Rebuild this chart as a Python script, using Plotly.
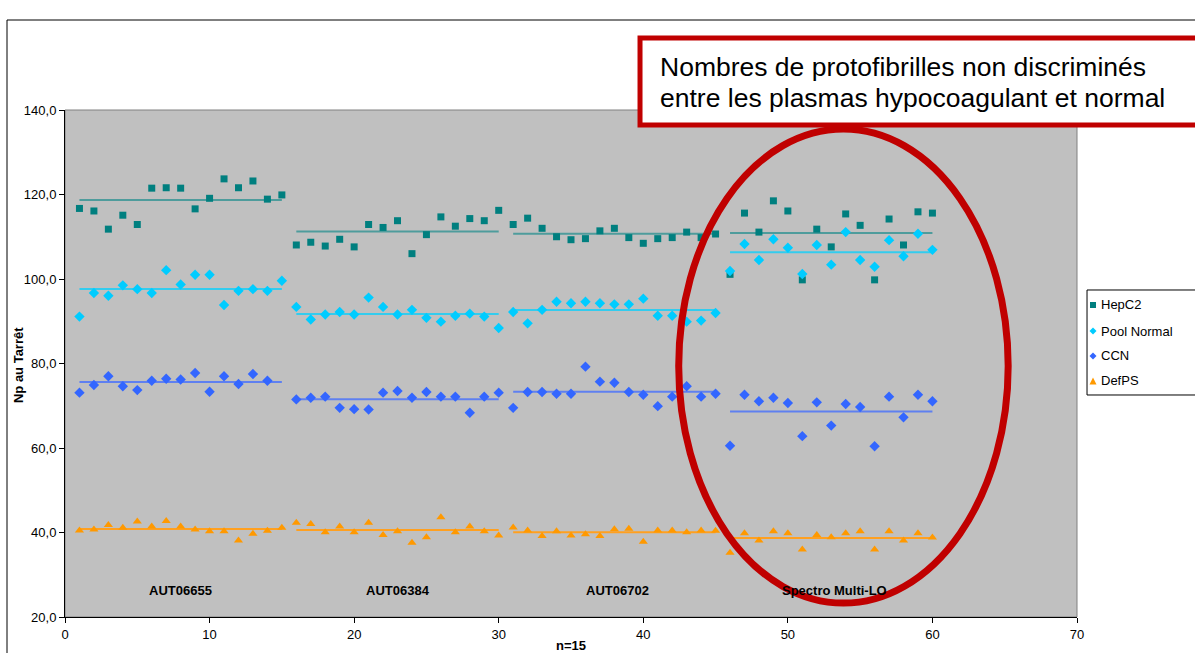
import plotly.graph_objects as go

# Run index (4 groups of 15 measurements)
runs = list(range(1, 61))
group_names = ["AUT06655", "AUT06384", "AUT06702", "Spectro Multi-LO"]
group_size = 15

hepc2 = [116.7, 116.1, 111.8, 115.1, 112.9, 121.5, 121.6, 121.5, 116.6, 119.1, 123.7, 121.6, 123.2, 118.9, 119.9,
         108.05, 108.7, 107.8, 109.4, 107.6, 112.9, 112.2, 113.8, 106.0, 110.5, 114.7, 112.5, 114.3, 113.8, 116.25,
         112.9, 114.4, 112.0, 110.0, 109.3, 109.55, 111.4, 112.0, 109.8, 108.45, 109.55, 109.8, 111.1, 109.8, 110.65,
         101.1, 115.6, 111.1, 118.5, 116.1, 99.8, 111.8, 107.6, 115.4, 112.7, 99.8, 114.2, 108.05, 115.9, 115.6]

pool_normal = [91.1, 96.7, 96.05, 98.5, 97.6, 96.7, 102.1, 98.7, 101.0, 101.0, 93.85, 97.2, 97.6, 97.2, 99.6,
               93.4, 90.4, 91.6, 92.2, 91.6, 95.6, 93.4, 91.6, 92.7, 90.8, 89.9, 91.3, 91.8, 91.1, 88.4,
               92.2, 89.5, 92.7, 94.6, 94.25, 94.6, 94.25, 94.0, 94.0, 95.35, 91.3, 91.3, 89.9, 90.15, 91.95,
               101.9, 108.3, 104.5, 109.4, 107.4, 101.2, 108.05, 103.4, 111.1, 104.5, 102.9, 109.2, 105.4, 110.7, 106.9]

ccn = [73.1, 74.9, 77.0, 74.6, 73.7, 75.9, 76.4, 76.2, 77.75, 73.3, 77.0, 75.15, 77.5, 75.9, None,
       71.5, 71.9, 72.15, 69.5, 69.2, 69.1, 73.1, 73.5, 71.9, 73.25, 72.15, 72.15, 68.35, 72.15, 73.1,
       69.5, 73.25, 73.25, 72.85, 72.85, 79.25, 75.7, 75.45, 73.25, 72.6, 69.9, 72.15, 74.6, 72.15, 72.85,
       60.55, 72.6, 71.05, 71.9, 70.65, 62.8, 70.8, 65.3, 70.4, 69.7, 60.4, 72.15, 67.25, 72.6, 71.05]

defps = [40.5, 40.7, 41.8, 41.1, 42.6, 41.4, 42.7, 41.4, 40.7, 40.3, 40.3, 38.1, 39.7, 40.4, 41.1,
         42.3, 42.0, 40.05, 41.4, 40.05, 42.3, 39.4, 40.3, 37.6, 38.9, 43.6, 40.05, 41.4, 40.3, 39.3,
         41.2, 40.5, 39.2, 40.3, 39.3, 39.6, 39.2, 40.75, 40.9, 37.8, 40.5, 40.5, 40.05, 40.5, 40.4,
         35.2, 39.8, 38.1, 40.3, 39.8, 36.0, 39.4, 38.9, 39.8, 40.3, 36.0, 40.3, 38.1, 39.8, 38.8]

y_ticks = [20, 40, 60, 80, 100, 120, 140]
y_tick_labels = ["20,0", "40,0", "60,0", "80,0", "100,0", "120,0", "140,0"]
x_ticks = [0, 10, 20, 30, 40, 50, 60, 70]

series = [
    ("HepC2", hepc2, "square", "#007F7F", "#4E9C9C", 7),
    ("Pool Normal", pool_normal, "diamond", "#00CCFF", "#33CCEE", 8),
    ("CCN", ccn, "diamond", "#3366FF", "#5F80F0", 8),
    ("DefPS", defps, "triangle-up", "#FF9900", "#FFA020", 8),
]

# plot-area size in pixels, used to place the key in paper units
PLOT_W, PLOT_H = 1012, 507


def group_means(values):
    """Mean of each block of runs, drawn as a horizontal segment."""
    xs, ys = [], []
    for g in range(len(group_names)):
        block_x = runs[g * group_size:(g + 1) * group_size]
        block = [v for v in values[g * group_size:(g + 1) * group_size] if v is not None]
        m = sum(block) / len(block)
        xs += [block_x[0], block_x[-1], None]
        ys += [m, m, None]
    return xs, ys


fig = go.Figure()

# mean segments first so markers sit on top
for name, vals, sym, col, lcol, size in series:
    mx, my = group_means(vals)
    fig.add_trace(go.Scatter(x=mx, y=my, mode="lines", line=dict(color=lcol, width=2),
                             showlegend=False, hoverinfo="skip"))

for name, vals, sym, col, lcol, size in series:
    fig.add_trace(go.Scatter(x=runs, y=vals, mode="markers", name=name, showlegend=False,
                             marker=dict(symbol=sym, color=col, size=size, line=dict(width=0))))

# block labels
label_x = [8, 23, 38.2, 53.2]
for gx, gname in zip(label_x, group_names):
    fig.add_annotation(x=gx, y=26.3, xref="x", yref="y", text="<b>%s</b>" % gname,
                       showarrow=False, font=dict(size=13, color="black"))

shapes = [
    # plot-area frame
    dict(type="rect", xref="paper", yref="paper", x0=0, x1=1, y0=0, y1=1,
         line=dict(color="#808080", width=1), layer="below"),
    # outer chart frame
    dict(type="line", xref="paper", yref="paper", x0=-0.0573, x1=1.13, y0=1.1775, y1=1.1775,
         line=dict(color="black", width=1)),
    dict(type="line", xref="paper", yref="paper", x0=-0.0573, x1=-0.0573, y0=-0.08, y1=1.1775,
         line=dict(color="black", width=1)),
    # highlighted block
    dict(type="circle", xref="x", yref="y", x0=42.45, x1=65.24, y0=23.3, y1=135.5,
         line=dict(color="#C00000", width=7)),
    # message box
    dict(type="rect", xref="paper", yref="paper", x0=0.5682, x1=1.125, y0=0.9704, y1=1.142,
         line=dict(color="#C00000", width=5), fillcolor="white"),
    # key box
    dict(type="rect", xref="paper", yref="paper", x0=1.0099, x1=1.13, y0=0.4379, y1=0.645,
         line=dict(color="black", width=1), fillcolor="white"),
]

# key entries: symbol drawn as a small path, label as text
key_x = 1.0158
key_text_x = 1.0217
key_y = [0.6154, 0.5641, 0.5148, 0.4655]


def key_symbol(sym, cx, cy, half_px):
    hx = half_px / PLOT_W
    hy = half_px / PLOT_H
    if sym == "square":
        pts = [(cx - hx, cy - hy), (cx + hx, cy - hy), (cx + hx, cy + hy), (cx - hx, cy + hy)]
    elif sym == "diamond":
        pts = [(cx, cy + hy), (cx + hx, cy), (cx, cy - hy), (cx - hx, cy)]
    else:
        pts = [(cx, cy + hy), (cx + hx, cy - hy), (cx - hx, cy - hy)]
    return "M " + " L ".join("%.5f,%.5f" % p for p in pts) + " Z"


for (name, vals, sym, col, lcol, size), ky in zip(series, key_y):
    shapes.append(dict(type="path", xref="paper", yref="paper",
                       path=key_symbol(sym, key_x, ky, 3 if sym == "square" else 3.5),
                       fillcolor=col, line=dict(width=0)))
    fig.add_annotation(xref="paper", yref="paper", x=key_text_x, y=ky, xanchor="left",
                       yanchor="middle", text=name, showarrow=False,
                       font=dict(size=13, color="black"))

msg_lines = ["Nombres de protofibrilles non discriminés",
             "entre les plasmas hypocoagulant et normal"]
for line_text, py in zip(msg_lines, [1.0848, 1.0237]):
    fig.add_annotation(xref="paper", yref="paper", x=0.5855, y=py, xanchor="left", yanchor="middle",
                       align="left", showarrow=False, text=line_text,
                       font=dict(size=26.5, color="black"))

fig.add_annotation(xref="paper", yref="paper", x=-0.0464, y=0.497, textangle=-90,
                   xanchor="center", yanchor="middle",
                   text="<b>Np au Tarrêt</b>", showarrow=False, font=dict(size=13, color="black"))
fig.add_annotation(xref="paper", yref="paper", x=0.5, y=-0.056, xanchor="center", yanchor="middle",
                   text="<b>n=15</b>", showarrow=False, font=dict(size=13, color="black"))

fig.update_layout(
    width=1195, height=653,
    margin=dict(l=65, r=118, t=110, b=36, autoexpand=False),
    paper_bgcolor="white",
    plot_bgcolor="#C0C0C0",
    font=dict(family="Liberation Sans, Arial, sans-serif", size=13, color="black"),
    shapes=shapes,
    showlegend=False,
    xaxis=dict(range=[0, 70], tickvals=x_ticks, showgrid=False, zeroline=False,
               showline=True, linecolor="black", linewidth=1, ticks="outside",
               ticklen=5, tickcolor="black", tickfont=dict(size=13)),
    yaxis=dict(range=[20, 140], tickvals=y_ticks, ticktext=y_tick_labels, showgrid=False,
               zeroline=False, showline=True, linecolor="black", linewidth=1,
               ticks="outside", ticklen=5, tickcolor="black", tickfont=dict(size=13)),
)

fig.write_html("out.html")
